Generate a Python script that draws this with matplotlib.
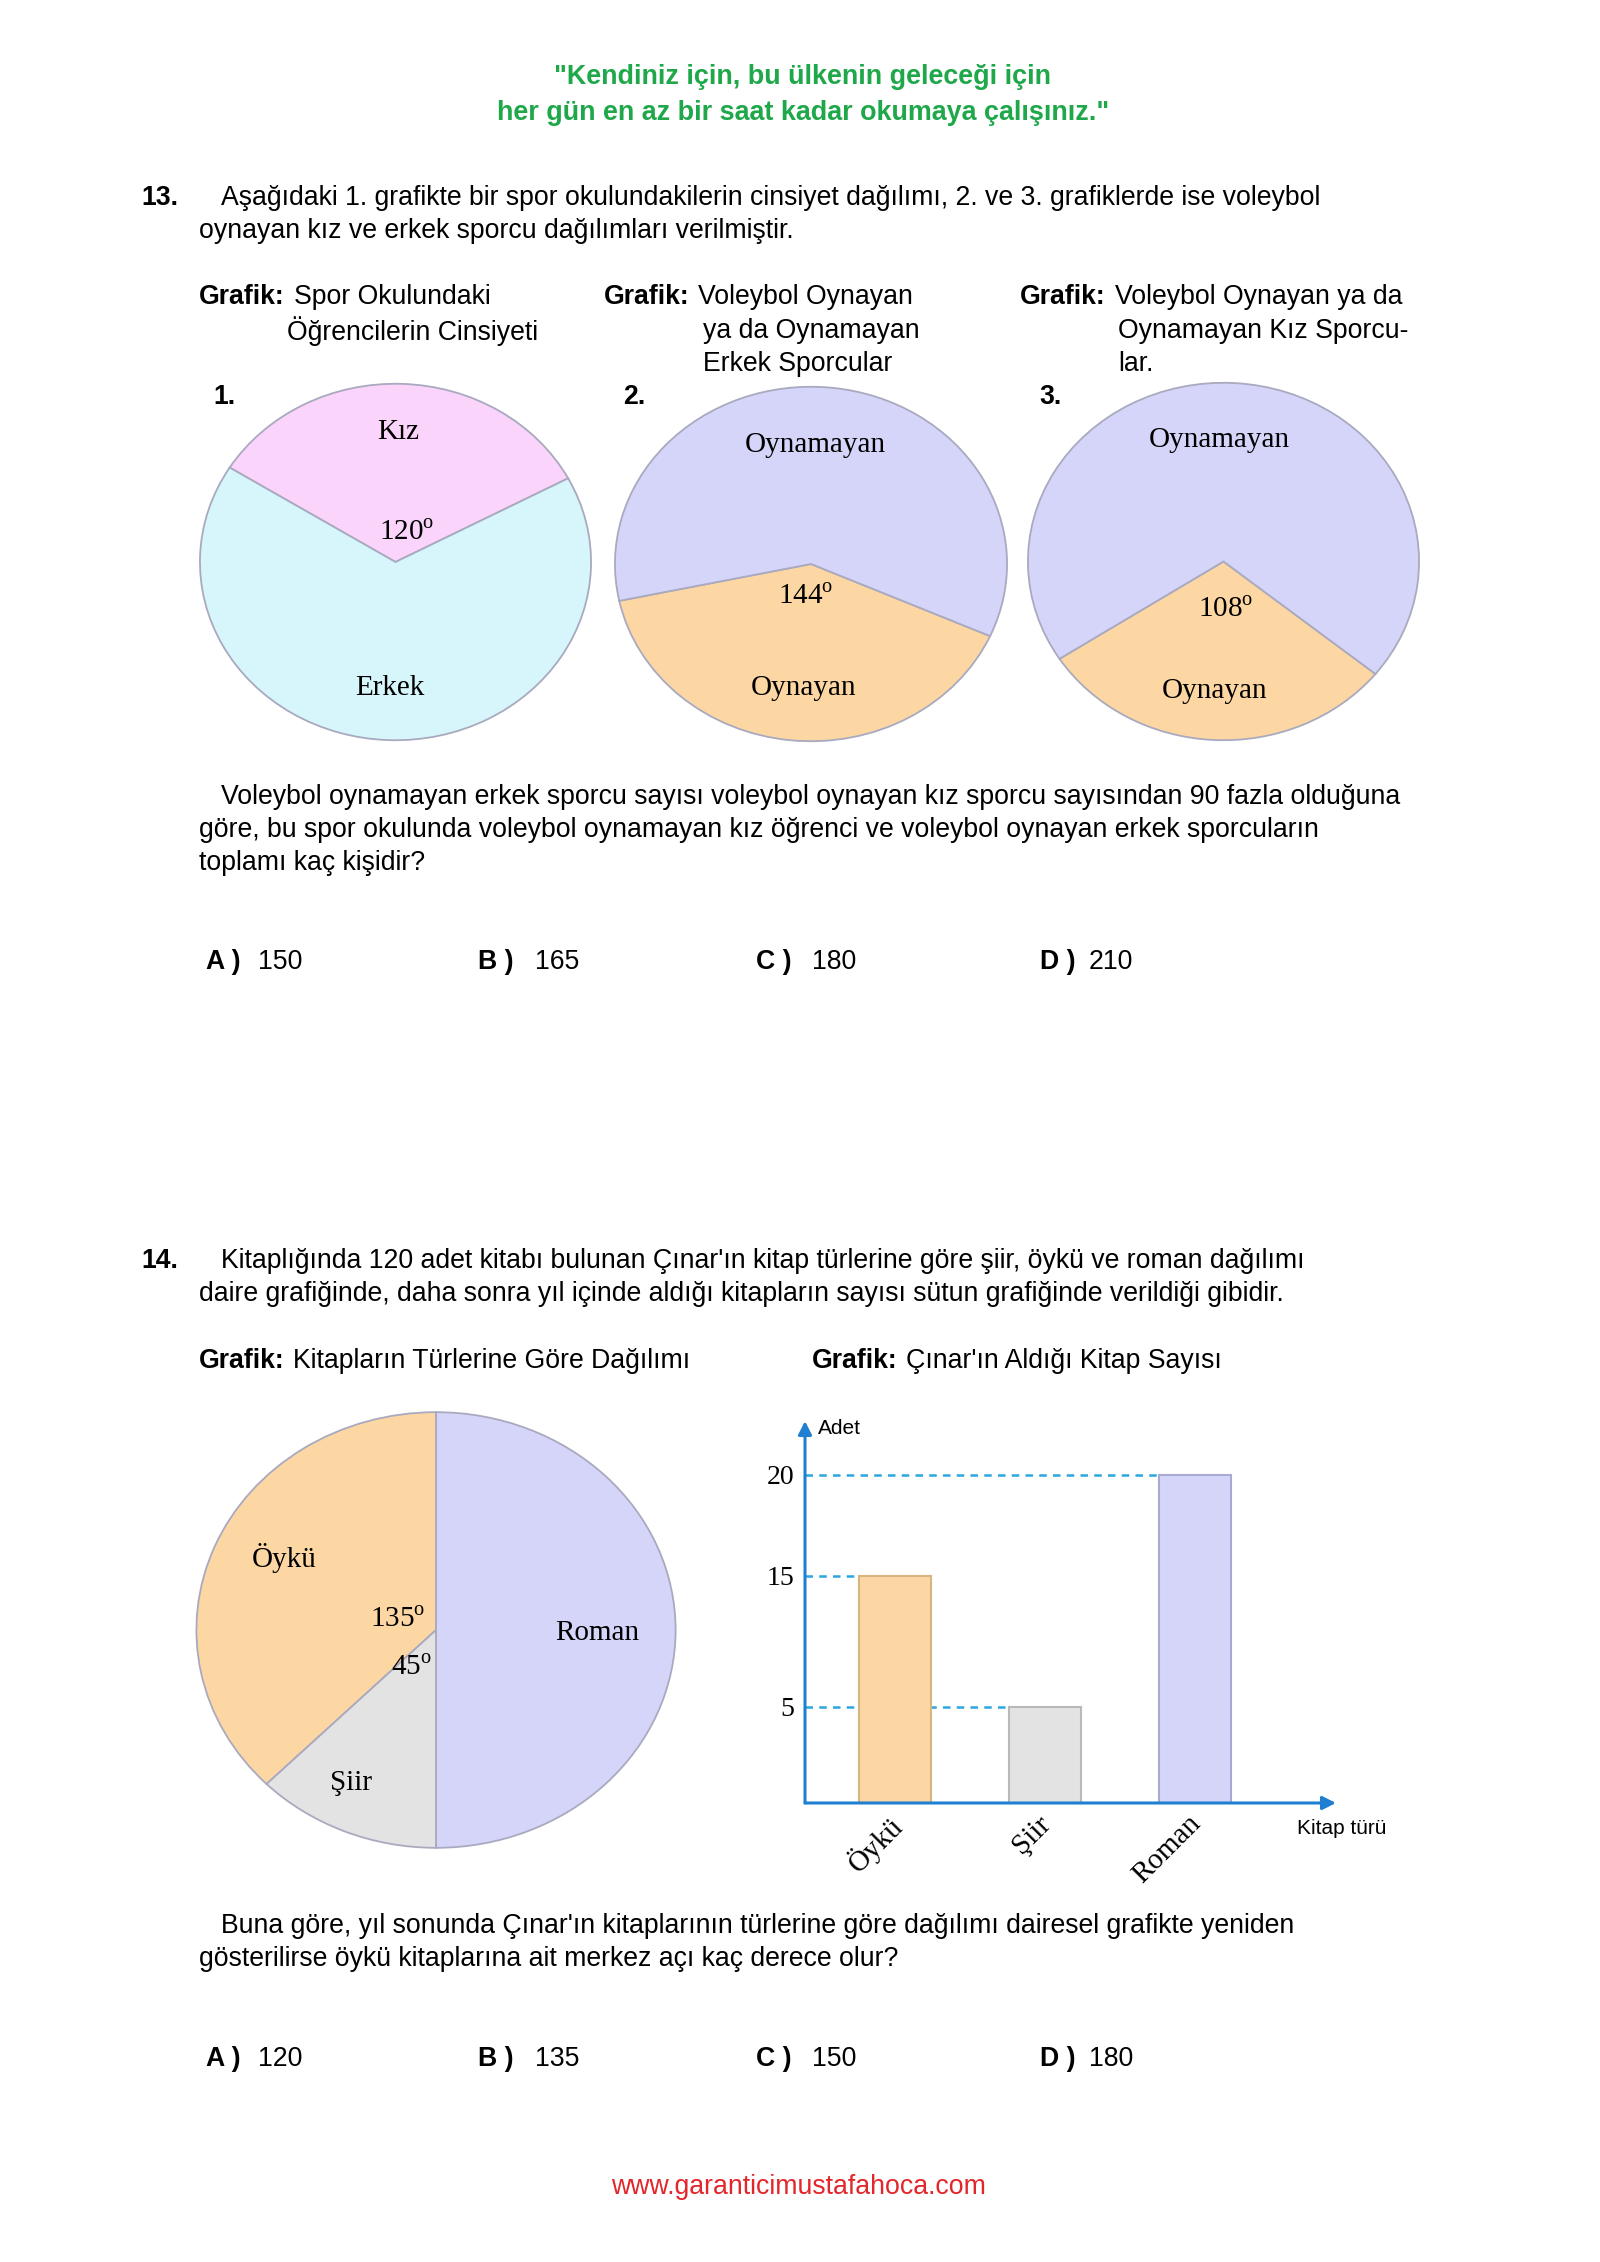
import matplotlib
matplotlib.use("Agg")
import matplotlib.pyplot as plt
import numpy as np

plt.rcParams['font.family'] = ['Liberation Sans', 'DejaVu Sans']
plt.rcParams['mathtext.fontset'] = 'custom'
plt.rcParams['mathtext.rm'] = 'Liberation Serif'

W, H = 1600, 2262

# --- data ---
pie1_labels = ['Kız', 'Erkek']
pie1_angles = [120, 240]
pie2_labels = ['Oynayan', 'Oynamayan']
pie2_angles = [144, 216]
pie3_labels = ['Oynayan', 'Oynamayan']
pie3_angles = [108, 252]
pie4_labels = ['Roman', 'Öykü', 'Şiir']
pie4_angles = [180, 135, 45]

bar_labels = ['Öykü', 'Şiir', 'Roman']
bar_values = [15, 5, 20]
y_ticks = [5, 15, 20]

answers13 = ['150', '165', '180', '210']
answers14 = ['120', '135', '150', '180']
options = ['A )', 'B )', 'C )', 'D )']

c_pink = '#fbd4fb'
c_cyan = '#d6f6fc'
c_lav = '#d5d5fa'
c_peach = '#fdd7a3'
c_gray = '#e3e3e3'
blue = '#1f7fd0'
dash_blue = '#2aa7e0'

fig = plt.figure(figsize=(W / 100, H / 100), dpi=100)
fig.patch.set_facecolor('white')

FS = 19.2


def T(x, y, s, **kw):
    kw.setdefault('va', 'center')
    kw.setdefault('fontsize', FS)
    fig.text(x / W, 1 - (y + 3) / H, s, **kw)


def px_axes(x0, y0, x1, y1):
    return fig.add_axes([x0 / W, 1 - y1 / H, (x1 - x0) / W, (y1 - y0) / H])


serif = ['Liberation Serif', 'DejaVu Serif']

# --- header ---
green = '#1fa84a'
T(803, 74, '"Kendiniz için, bu ülkenin geleceği için', ha='center', color=green,
  fontweight='bold', fontsize=19.4)
T(803, 110, 'her gün en az bir saat kadar okumaya çalışınız."', ha='center', color=green,
  fontweight='bold', fontsize=19.4)

# --- question 13 ---
T(141, 195, '13.', fontweight='bold')
T(221, 195, 'Aşağıdaki 1. grafikte bir spor okulundakilerin cinsiyet dağılımı, 2. ve 3. grafiklerde ise voleybol')
T(199, 228, 'oynayan kız ve erkek sporcu dağılımları verilmiştir.')

T(199, 294, 'Grafik:', fontweight='bold')
T(294, 294, 'Spor Okulundaki')
T(287, 328, 'Öğrencilerin Cinsiyeti')
T(604, 294, 'Grafik:', fontweight='bold')
T(698, 294, 'Voleybol Oynayan')
T(703, 328, 'ya da Oynamayan')
T(703, 361, 'Erkek Sporcular')
T(1020, 294, 'Grafik:', fontweight='bold')
T(1115, 294, 'Voleybol Oynayan ya da')
T(1118, 328, 'Oynamayan Kız Sporcu-')
T(1118, 361, 'lar.')

T(213, 394, '1.', fontweight='bold')
T(623, 394, '2.', fontweight='bold')
T(1039, 394, '3.', fontweight='bold')

wp = dict(edgecolor='#a9a9bf', linewidth=1.3)


def draw_pie(bounds, vals, cols, start):
    ax = px_axes(*bounds)
    ax.pie(vals, colors=cols, startangle=start, counterclock=True, radius=1,
           wedgeprops=wp)
    ax.set_aspect('auto')
    ax.set_xlim(-1.01, 1.01)
    ax.set_ylim(-1.01, 1.01)
    ax.axis('off')
    return ax


draw_pie((198, 382, 593, 742), pie1_angles, [c_pink, c_cyan], 28)
draw_pie((613, 385, 1009, 743), pie2_angles, [c_peach, c_lav], 192)
draw_pie((1026, 381, 1421, 742), pie3_angles, [c_peach, c_lav], 213)

pf = dict(family=serif, fontsize=21, ha='center')
T(398, 429, pie1_labels[0], **pf)
T(407, 530, r'%d$^\mathrm{o}$' % pie1_angles[0], **pf)
T(390, 685, pie1_labels[1], **pf)
T(815, 442, pie2_labels[1], **pf)
T(806, 594, r'%d$^\mathrm{o}$' % pie2_angles[0], **pf)
T(804, 685, pie2_labels[0], **pf)
T(1219, 437, pie3_labels[1], **pf)
T(1226, 607, r'%d$^\mathrm{o}$' % pie3_angles[0], **pf)
T(1215, 688, pie3_labels[0], **pf)

T(221, 794, 'Voleybol oynamayan erkek sporcu sayısı voleybol oynayan kız sporcu sayısından 90 fazla olduğuna')
T(199, 827, 'göre, bu spor okulunda voleybol oynamayan kız öğrenci ve voleybol oynayan erkek sporcuların')
T(199, 860, 'toplamı kaç kişidir?')

opt_x = [206, 478, 756, 1040]
val_x = [258, 535, 812, 1089]
for ox, vx, o, a in zip(opt_x, val_x, options, answers13):
    T(ox, 959, o, fontweight='bold')
    T(vx, 959, a)

# --- question 14 ---
T(141, 1258, '14.', fontweight='bold')
T(221, 1258, "Kitaplığında 120 adet kitabı bulunan Çınar'ın kitap türlerine göre şiir, öykü ve roman dağılımı")
T(199, 1291, "daire grafiğinde, daha sonra yıl içinde aldığı kitapların sayısı sütun grafiğinde verildiği gibidir.")
T(199, 1358, 'Grafik:', fontweight='bold')
T(293, 1358, 'Kitapların Türlerine Göre Dağılımı')
T(812, 1358, 'Grafik:', fontweight='bold')
T(906, 1358, "Çınar'ın Aldığı Kitap Sayısı")

draw_pie((194, 1410, 678, 1850), pie4_angles, [c_lav, c_peach, c_gray], -90)
T(284, 1555, pie4_labels[1], **pf)
T(398, 1617, r'%d$^\mathrm{o}$' % pie4_angles[1], **pf)
T(411, 1665, r'%d$^\mathrm{o}$' % pie4_angles[2], **pf)
T(597, 1630, pie4_labels[0], **pf)
T(351, 1780, pie4_labels[2], **pf)

# bar chart (the printed axis is not drawn to scale, so use a piecewise scale)
bx = px_axes(805, 1421, 1336, 1803)
scale_v = [0, 5, 15, 20, 22.65]
scale_p = [0, 96.3, 227.5, 328.5, 382]


def fwd(v):
    return np.interp(v, scale_v, scale_p, left=-1, right=400)


def inv(p):
    return np.interp(p, scale_p, scale_v, left=-0.01, right=23)


bx.set_yscale('function', functions=(fwd, inv))
x = np.arange(len(bar_values))
bx.set_xlim(-0.6, 2.94)
bx.set_ylim(0, 22.65)
bar_cols = [c_peach, c_gray, c_lav]
bar_edges = ['#d9b483', '#b9b9b9', '#a9a9d6']
bx.bar(x, bar_values, width=0.48, color=bar_cols, edgecolor=bar_edges,
       linewidth=1.5, zorder=3)
for xi, v in zip(x, bar_values):
    bx.plot([-0.6, xi - 0.24], [v, v], ls=(0, (3, 2.5)), color=dash_blue, lw=1.8,
            zorder=2)
for s in bx.spines.values():
    s.set_visible(False)
bx.set_xticks([])
bx.yaxis.set_minor_locator(plt.NullLocator())
bx.set_yticks(y_ticks)
bx.set_yticklabels([str(t) for t in y_ticks], family=serif, fontsize=20)
bx.tick_params(axis='y', length=0, pad=8)
bx.patch.set_alpha(0)
bx.annotate('', xy=(0, 1), xytext=(0, 0), xycoords='axes fraction',
            arrowprops=dict(arrowstyle='-|>', color=blue, lw=2.2, mutation_scale=20,
                            shrinkA=0, shrinkB=0))
bx.annotate('', xy=(1, 0), xytext=(0, 0), xycoords='axes fraction',
            arrowprops=dict(arrowstyle='-|>', color=blue, lw=2.2, mutation_scale=20,
                            shrinkA=0, shrinkB=0))
tr = bx.get_xaxis_transform()
for xi, lab in zip(x, bar_labels):
    bx.text(xi - 0.05, -0.02, lab, transform=tr, rotation=45, ha='right', va='top',
            rotation_mode='anchor', family=serif, fontsize=21)

T(818, 1425, 'Adet', fontsize=15)
T(1342, 1825, 'Kitap türü', fontsize=15, ha='center')

T(221, 1923, "Buna göre, yıl sonunda Çınar'ın kitaplarının türlerine göre dağılımı dairesel grafikte yeniden")
T(199, 1956, 'gösterilirse öykü kitaplarına ait merkez açı kaç derece olur?')

for ox, vx, o, a in zip(opt_x, val_x, options, answers14):
    T(ox, 2056, o, fontweight='bold')
    T(vx, 2056, a)

T(798, 2184, 'www.garanticimustafahoca.com', ha='center', color='#e3262b', fontsize=FS)

fig.savefig('out.png', dpi=100)
